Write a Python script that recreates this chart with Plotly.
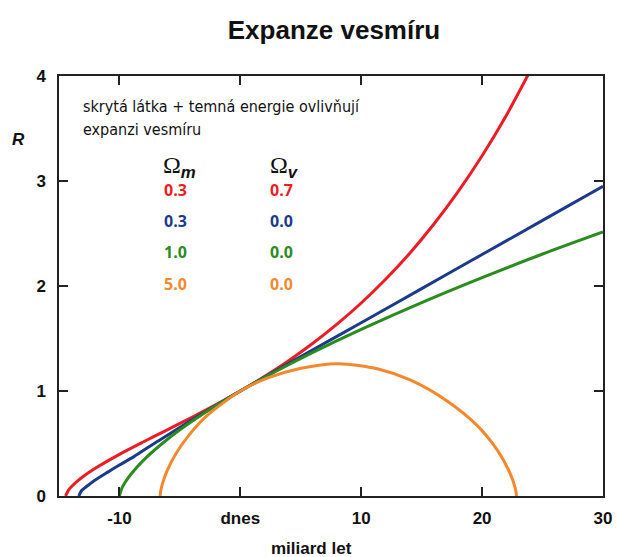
import plotly.graph_objects as go

# Scale factor R versus time (billions of years, 0 = today) for four cosmologies
t_red = [-14.46, -14.2, -14.0, -13.5, -13.0, -12.0, -10.0, -8.0, -6.0, -4.0, -2.0, 0.0,
         2.0, 4.0, 6.0, 8.0, 10.0, 12.0, 14.0, 16.0, 18.0, 20.0, 22.0, 24.0]
r_red = [0.0, 0.059, 0.086, 0.140, 0.186, 0.264, 0.397, 0.517, 0.633, 0.750, 0.871, 1.0,
         1.139, 1.289, 1.455, 1.637, 1.838, 2.062, 2.310, 2.588, 2.896, 3.240, 3.624, 4.055]

t_blue = [-13.36, -13.2, -13.0, -12.5, -12.1, -11.0, -10.0, -8.8, -7.0, -5.8, -4.0, -2.0, 0.0,
          3.0, 6.0, 10.0, 15.0, 20.0, 25.0, 30.0]
r_blue = [0.0, 0.04, 0.065, 0.11, 0.145, 0.225, 0.295, 0.375, 0.51, 0.595, 0.725, 0.864, 1.0,
          1.198, 1.393, 1.65, 1.975, 2.30, 2.625, 2.95]

t_green = [-10.0, -9.8, -9.5, -9.0, -8.0, -6.0, -4.0, -2.0, 0.0, 3.0, 6.0, 10.0, 15.0, 20.0, 25.0, 30.0]
r_green = [0.0, 0.074, 0.136, 0.215, 0.342, 0.543, 0.711, 0.862, 1.0, 1.191, 1.368, 1.587, 1.842,
           2.080, 2.305, 2.515]

t_orange = [-6.63, -6.61, -6.46, -6.08, -5.37, -4.28, -2.76, 0.0, 2.28, 4.93, 8.1, 11.4, 14.05,
            17.1, 19.6, 21.3, 22.3, 22.75, 22.85]
r_orange = [0.0, 0.03, 0.11, 0.235, 0.395, 0.575, 0.765, 1.0, 1.125, 1.215, 1.26, 1.21, 1.105,
            0.905, 0.67, 0.43, 0.22, 0.07, 0.0]

omega_m = ["0.3", "0.3", "1.0", "5.0"]
omega_v = ["0.7", "0.0", "0.0", "0.0"]
colors = ["#ec1c24", "#1c3a8c", "#2a8c1e", "#f5882d"]

x_ticks = [-10, 0, 10, 20, 30]
x_labels = ["-10", "dnes", "10", "20", "30"]
y_ticks = [0, 1, 2, 3, 4]

fig = go.Figure()
series = [(t_red, r_red), (t_blue, r_blue), (t_green, r_green), (t_orange, r_orange)]
for (t, r), c in zip(series, colors):
    fig.add_trace(go.Scatter(x=t, y=r, mode="lines",
                             line=dict(color=c, width=3, shape="spline", smoothing=0.8),
                             showlegend=False, hoverinfo="skip"))

tick_font = dict(family="Liberation Sans, Arial, sans-serif", size=17, color="#111111")
fig.update_layout(
    width=618, height=557,
    margin=dict(l=59, r=15, t=76, b=61),
    paper_bgcolor="white", plot_bgcolor="white",
    title=dict(text="<b>Expanze vesmíru</b>", x=334 / 618, xanchor="center",
               y=1 - 30 / 557, yanchor="middle",
               font=dict(family="Liberation Sans, Arial, sans-serif", size=26, color="#111111")),
    xaxis=dict(range=[-15, 30], tickvals=x_ticks, ticktext=[f"<b>{s}</b>" for s in x_labels],
               ticks="inside", ticklen=9, tickwidth=1.5, tickcolor="#222222",
               showline=True, linecolor="#222222", linewidth=1.5, mirror="ticks",
               showgrid=False, zeroline=False, tickfont=tick_font, ticklabelstandoff=6,
               automargin=False),
    yaxis=dict(range=[0, 4], tickvals=y_ticks, ticktext=[f"<b>{v}</b>" for v in y_ticks],
               ticks="inside", ticklen=9, tickwidth=1.5, tickcolor="#222222",
               showline=True, linecolor="#222222", linewidth=1.5, mirror="ticks",
               showgrid=False, zeroline=False, tickfont=tick_font, ticklabelstandoff=8,
               automargin=False),
)

narrow = "Liberation Sans Narrow, DejaVu Sans Condensed, Arial Narrow, sans-serif"
fig.add_annotation(x=-13.2, y=3.705, xref="x", yref="y", xanchor="left", yanchor="middle",
                   text="skrytá látka + temná energie ovlivňují", showarrow=False,
                   font=dict(family=narrow, size=16, color="#111111"))
fig.add_annotation(x=-13.2, y=3.486, xref="x", yref="y", xanchor="left", yanchor="middle",
                   text="expanzi vesmíru", showarrow=False,
                   font=dict(family=narrow, size=16, color="#111111"))

# Column headers Ω_m and Ω_v
sub_style = "font-family:Liberation Sans, Arial, sans-serif;font-weight:bold;font-style:italic"
for xc, sub in [(-5.04, "m"), (3.64, "v")]:
    fig.add_annotation(x=xc, y=3.133, xref="x", yref="y", xanchor="center", yanchor="middle",
                       text=f"Ω<sub><span style=\"{sub_style}\">{sub}</span></sub>",
                       showarrow=False,
                       font=dict(family="Liberation Serif, Times New Roman, serif", size=24,
                                 color="#111111"))

row_y = [2.919, 2.619, 2.324, 2.019]
val_font = "Open Sans, Noto Sans, sans-serif"
for vm, vv, c, yy in zip(omega_m, omega_v, colors, row_y):
    fig.add_annotation(x=-5.37, y=yy, xref="x", yref="y", xanchor="center", yanchor="middle",
                       text=f"<b>{vm}</b>", showarrow=False,
                       font=dict(family=val_font, size=16, color=c))
    fig.add_annotation(x=3.39, y=yy, xref="x", yref="y", xanchor="center", yanchor="middle",
                       text=f"<b>{vv}</b>", showarrow=False,
                       font=dict(family=val_font, size=16, color=c))

# Axis titles
fig.add_annotation(x=(311 - 59) / 544, y=(496 - 548) / 420, xref="paper", yref="paper",
                   xanchor="center", yanchor="middle", text="<b>miliard let</b>", showarrow=False,
                   font=dict(family="Liberation Sans, Arial, sans-serif", size=17, color="#111111"))
fig.add_annotation(x=(18 - 59) / 544, y=(496 - 139) / 420, xref="paper", yref="paper",
                   xanchor="center", yanchor="middle", text="<b><i>R</i></b>", showarrow=False,
                   font=dict(family="Liberation Sans, Arial, sans-serif", size=17, color="#111111"))

fig.write_html("out.html")
